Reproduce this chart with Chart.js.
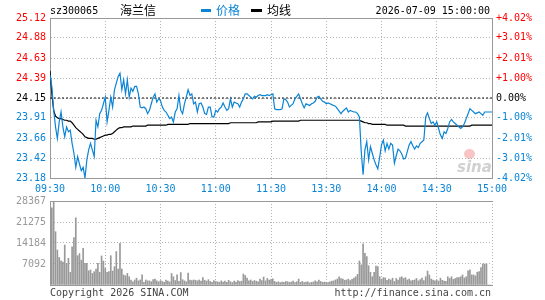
<!DOCTYPE html>
<html>
<head>
<meta charset="utf-8">
<title>sz300065 海兰信</title>
<script src="https://cdn.jsdelivr.net/npm/chart.js@4/dist/chart.umd.min.js"></script>
<style>
body{margin:0;background:#fff;width:545px;height:300px;position:relative;overflow:hidden;font-family:"DejaVu Sans Mono",monospace;font-size:10px;color:#000}
canvas{position:absolute;left:0}
#priceChart{top:0}
#volChart{top:189px}
.t{position:absolute;white-space:nowrap;line-height:12px}
.cjk{font-family:"Noto Sans CJK SC",sans-serif;font-size:12px}
.dash{position:absolute;height:3px}
</style>
</head>
<body>
<canvas id="priceChart" width="545" height="195"></canvas>
<canvas id="volChart" width="545" height="111"></canvas>

<div class="t" style="left:50px;top:5px">sz300065</div>
<div class="t cjk" style="left:120px;top:4px">海兰信</div>
<div class="dash" style="left:201px;top:9px;width:10px;background:#0b84d6"></div>
<div class="t cjk" style="left:216px;top:4px;color:#0b84d6">价格</div>
<div class="dash" style="left:251px;top:9px;width:11px;background:#000"></div>
<div class="t cjk" style="left:267px;top:4px">均线</div>
<div class="t" id="stamp" style="right:55px;top:5px"></div>
<div class="t" style="left:50px;top:287px;color:#444">Copyright 2026 SINA.COM</div>
<div class="t" style="right:54px;top:287px;color:#444">http://finance.sina.com.cn</div>
<div style="position:absolute;left:464px;top:149px;width:11px;height:10px;border-radius:50%;background:rgba(235,90,90,.35)"></div>
<div class="t" style="left:457px;top:158px;font:italic bold 15px 'DejaVu Sans',sans-serif;color:rgba(150,150,150,.45)">sina</div>

<script>
const stamp = '2026-07-09 15:00:00';
const prevClose = 24.15;

// axis labels
const timeLabels = ['09:30','10:00','10:30','11:00','11:30','13:30','14:00','14:30','15:00'];
const priceTicks = ['23.18','23.42','23.66','23.91','24.15','24.39','24.63','24.88','25.12'];
const pctTicks = ['-4.02%','-3.01%','-2.01%','-1.00%','0.00%','+1.00%','+2.01%','+3.01%','+4.02%'];
const volTicks = ['0','7092','14184','21275','28367'];

// one value per minute, 09:30 .. 15:00 (241 points)
const price = [
  24.43,24.29,24.00,23.80,23.66,23.86,23.98,23.80,23.68,23.80,
  23.74,23.76,23.60,23.48,23.31,23.44,23.35,23.27,23.31,23.18,
  23.40,23.52,23.60,23.52,23.44,23.88,23.80,23.96,24.00,24.08,
  24.16,23.86,24.00,24.16,24.04,24.25,24.33,24.41,24.45,24.25,
  24.37,24.20,24.37,24.16,24.27,24.23,24.29,24.29,24.20,24.04,
  24.03,24.04,24.02,23.96,24.00,24.08,24.16,24.20,24.10,24.14,
  24.12,24.04,24.00,23.98,23.94,23.90,23.92,23.86,23.98,24.02,
  24.18,24.00,23.96,24.08,24.16,24.25,24.18,24.20,24.08,24.10,
  23.98,24.08,24.09,24.04,23.96,23.95,24.04,24.04,23.92,23.92,
  24.00,23.98,24.02,24.04,24.09,24.04,24.00,24.02,24.14,24.04,
  24.10,24.09,24.08,24.04,24.10,24.14,24.20,24.20,24.18,24.16,
  24.14,24.17,24.16,24.18,24.19,24.18,24.18,24.18,24.19,24.18,
  24.19,24.20,24.02,24.01,24.01,24.01,24.02,24.14,24.13,24.10,
  24.04,24.06,24.08,24.14,24.17,24.20,24.14,24.08,24.03,24.08,
  24.07,24.06,24.08,24.09,24.11,24.16,24.17,24.14,24.11,24.10,
  24.08,24.09,24.08,24.07,24.06,24.05,24.02,23.99,23.96,23.99,
  24.01,24.03,23.98,24.00,23.99,23.98,23.98,23.96,23.92,23.50,
  23.22,23.52,23.62,23.40,23.56,23.48,23.40,23.34,23.29,23.43,
  23.58,23.64,23.51,23.60,23.53,23.60,23.58,23.36,23.45,23.53,
  23.51,23.47,23.41,23.42,23.50,23.58,23.62,23.57,23.53,23.57,
  23.55,23.60,23.62,23.64,23.92,23.97,23.90,23.84,23.86,23.82,
  23.86,23.78,23.70,23.66,23.74,23.72,23.78,23.86,23.89,23.86,
  23.84,23.82,23.80,23.78,23.80,23.84,23.90,23.96,24.02,24.00,
  23.98,23.96,23.97,23.98,23.96,23.94,23.98,23.98,23.98,23.98,
  23.98
];

const avgLine = [
  24.48,24.20,24.00,23.93,23.91,23.90,23.90,23.89,23.88,23.88,
  23.87,23.87,23.85,23.82,23.79,23.77,23.75,23.73,23.71,23.68,
  23.67,23.66,23.66,23.66,23.65,23.65,23.66,23.67,23.68,23.69,
  23.70,23.70,23.71,23.71,23.72,23.74,23.76,23.78,23.79,23.79,
  23.80,23.80,23.80,23.80,23.80,23.81,23.81,23.81,23.81,23.81,
  23.81,23.81,23.81,23.82,23.82,23.82,23.82,23.82,23.82,23.82,
  23.82,23.82,23.82,23.82,23.83,23.83,23.83,23.83,23.83,23.83,
  23.83,23.83,23.83,23.83,23.83,23.83,23.84,23.84,23.84,23.84,
  23.84,23.84,23.84,23.84,23.84,23.84,23.84,23.84,23.84,23.84,
  23.84,23.84,23.84,23.84,23.84,23.84,23.84,23.84,23.85,23.85,
  23.85,23.85,23.85,23.85,23.85,23.85,23.85,23.85,23.85,23.85,
  23.85,23.85,23.85,23.86,23.86,23.86,23.86,23.86,23.86,23.86,
  23.86,23.87,23.87,23.87,23.87,23.87,23.87,23.87,23.87,23.87,
  23.87,23.87,23.87,23.87,23.87,23.87,23.88,23.88,23.88,23.88,
  23.88,23.88,23.88,23.88,23.88,23.88,23.88,23.88,23.88,23.88,
  23.88,23.88,23.88,23.88,23.88,23.88,23.88,23.88,23.88,23.88,
  23.88,23.88,23.88,23.88,23.88,23.88,23.88,23.88,23.88,23.87,
  23.86,23.85,23.85,23.84,23.84,23.83,23.83,23.83,23.83,23.83,
  23.83,23.83,23.83,23.82,23.82,23.82,23.82,23.82,23.82,23.82,
  23.82,23.82,23.82,23.81,23.81,23.81,23.81,23.81,23.81,23.81,
  23.81,23.81,23.81,23.81,23.81,23.81,23.81,23.81,23.81,23.81,
  23.81,23.81,23.81,23.81,23.81,23.81,23.81,23.81,23.81,23.81,
  23.81,23.81,23.81,23.81,23.81,23.81,23.81,23.81,23.81,23.82,
  23.82,23.82,23.82,23.82,23.82,23.82,23.82,23.82,23.82,23.82,
  23.82
];

const volume = [
  6500,26100,28367,18000,11800,9300,8200,7700,13500,7300,
  9000,4300,12900,16000,22700,9900,10600,8400,12400,7300,
  7300,4800,5100,3900,4500,5400,7300,4300,9800,8100,
  5600,4300,4500,9900,4700,6200,11300,5400,14100,5400,
  3400,3100,3900,2800,1700,1100,1700,2300,1400,1700,
  3400,900,1700,1400,1400,1100,1800,2000,1400,1100,
  1500,1200,900,1700,1300,1000,3900,2800,1500,3400,
  1200,4200,1800,1400,1100,4000,1700,1500,1700,1600,
  1400,1700,1300,2500,1600,1300,1800,1200,900,1500,
  1200,1100,900,1400,1000,1300,900,1600,1100,800,
  1300,1000,1500,1200,1300,3700,3200,2300,1400,1700,
  1200,1500,1300,1100,2000,1500,2700,1400,2200,1700,
  1800,2100,1200,900,1100,800,1000,900,1200,1100,
  900,1000,1300,800,1100,2000,900,1200,800,1000,
  1100,700,900,1000,1400,1100,1700,1200,900,1000,
  900,800,1100,1300,1400,1700,2000,2800,2200,2000,
  1600,1700,2000,1500,1900,2300,2800,3600,8100,6800,
  13900,10700,9600,6500,4300,2800,4300,6400,6200,2800,
  2000,2500,2400,1600,2000,1700,2300,1200,2200,1700,
  2500,2800,2200,2500,1700,2000,1400,1600,1700,2200,
  1400,1800,2300,1500,2800,4700,3400,2000,1700,1400,
  1700,1300,2300,1600,1300,1200,2800,2200,2800,1900,
  2200,2500,2500,2800,3400,2400,2800,4800,5100,3400,
  3400,3100,4300,4500,5900,7100,7100,7100,0,0,
  0
];

const BLUE = '#0b84d6';
const RED = '#ff0000';
const GRID = '#b4b4b4';
const FRAME = '#999999';
const FONT = {family: '"DejaVu Sans Mono", monospace', size: 10};
const LAST = price.length - 1;

function $ (sel){ return document.querySelector(sel); }
function xy(arr){ return arr.map((v, i) => ({x: i, y: v})); }

function priceColor(i){
  const v = Number(priceTicks[i]);
  if (v > prevClose) return RED;
  if (v < prevClose) return BLUE;
  return '#000';
}

// shared x axis (minutes since open, one tick every 30 min)
function timeAxis(showLabels, height){
  return {
    type: 'linear', min: 0, max: LAST,
    afterBuildTicks: s => { s.ticks = timeLabels.map((_, i) => ({value: i * 30})); },
    afterFit: s => { s.height = height; },
    ticks: {display: showLabels, callback: (v, i) => timeLabels[i], color: BLUE, font: FONT, padding: 5, maxRotation: 0, autoSkip: false},
    grid: {color: GRID, drawTicks: false, offset: false},
    border: {color: FRAME, dash: [1, 2]},
    offset: false
  };
}

// top frame line
const topFrame = {
  type: 'linear', position: 'top', min: 0, max: LAST,
  afterFit: s => { s.height = 0; },
  ticks: {display: false}, grid: {display: false}, border: {color: FRAME}
};

$('#stamp').textContent = stamp;

new Chart($('#priceChart').getContext('2d'), {
  type: 'line',
  data: {
    datasets: [
      {data: xy(price), borderColor: BLUE, borderWidth: 1.2, pointRadius: 0, tension: 0, order: 0},
      {data: xy(avgLine), borderColor: '#000', borderWidth: 1.2, pointRadius: 0, tension: 0, order: 1},
      {data: xy(price.map(() => prevClose)), borderColor: '#000', borderWidth: 1, borderDash: [2, 2], pointRadius: 0, order: 2}
    ]
  },
  options: {
    responsive: false, animation: false, events: [],
    layout: {padding: {top: 18, left: 0, right: 0, bottom: 0}},
    plugins: {legend: {display: false}, tooltip: {enabled: false}},
    scales: {
      x: timeAxis(true, 17),
      xTop: topFrame,
      y: {
        min: Number(priceTicks[0]), max: Number(priceTicks[priceTicks.length - 1]),
        afterBuildTicks: s => { s.ticks = priceTicks.map(t => ({value: Number(t)})); },
        afterFit: s => { s.width = 50; },
        ticks: {callback: (v, i) => priceTicks[i], color: c => priceColor(c.index), font: FONT, padding: 4},
        grid: {color: GRID, drawTicks: false},
        border: {color: FRAME, dash: [1, 2]}
      },
      y2: {
        position: 'right',
        min: Number(priceTicks[0]), max: Number(priceTicks[priceTicks.length - 1]),
        afterBuildTicks: s => { s.ticks = priceTicks.map(t => ({value: Number(t)})); },
        afterFit: s => { s.width = 53; },
        ticks: {callback: (v, i) => pctTicks[i], color: c => priceColor(c.index), font: FONT, padding: 4},
        grid: {display: false, drawTicks: false},
        border: {color: FRAME}
      }
    }
  }
});

new Chart($('#volChart').getContext('2d'), {
  type: 'bar',
  data: {
    datasets: [{data: xy(volume), backgroundColor: '#999999', borderWidth: 0, barThickness: 1, grouped: false}]
  },
  options: {
    responsive: false, animation: false, events: [],
    layout: {padding: {top: 12, left: 0, right: 53, bottom: 0}},
    plugins: {legend: {display: false}, tooltip: {enabled: false}},
    scales: {
      x: timeAxis(false, 15),
      xTop: topFrame,
      y: {
        min: 0, max: Number(volTicks[volTicks.length - 1]),
        afterBuildTicks: s => { s.ticks = volTicks.map(t => ({value: Number(t)})); },
        afterFit: s => { s.width = 50; },
        ticks: {callback: (v, i) => i === 0 ? '' : volTicks[i], color: '#999999', font: FONT, padding: 4},
        grid: {color: GRID, drawTicks: false},
        border: {color: FRAME, dash: [1, 2]}
      }
    }
  }
});
</script>
</body>
</html>
